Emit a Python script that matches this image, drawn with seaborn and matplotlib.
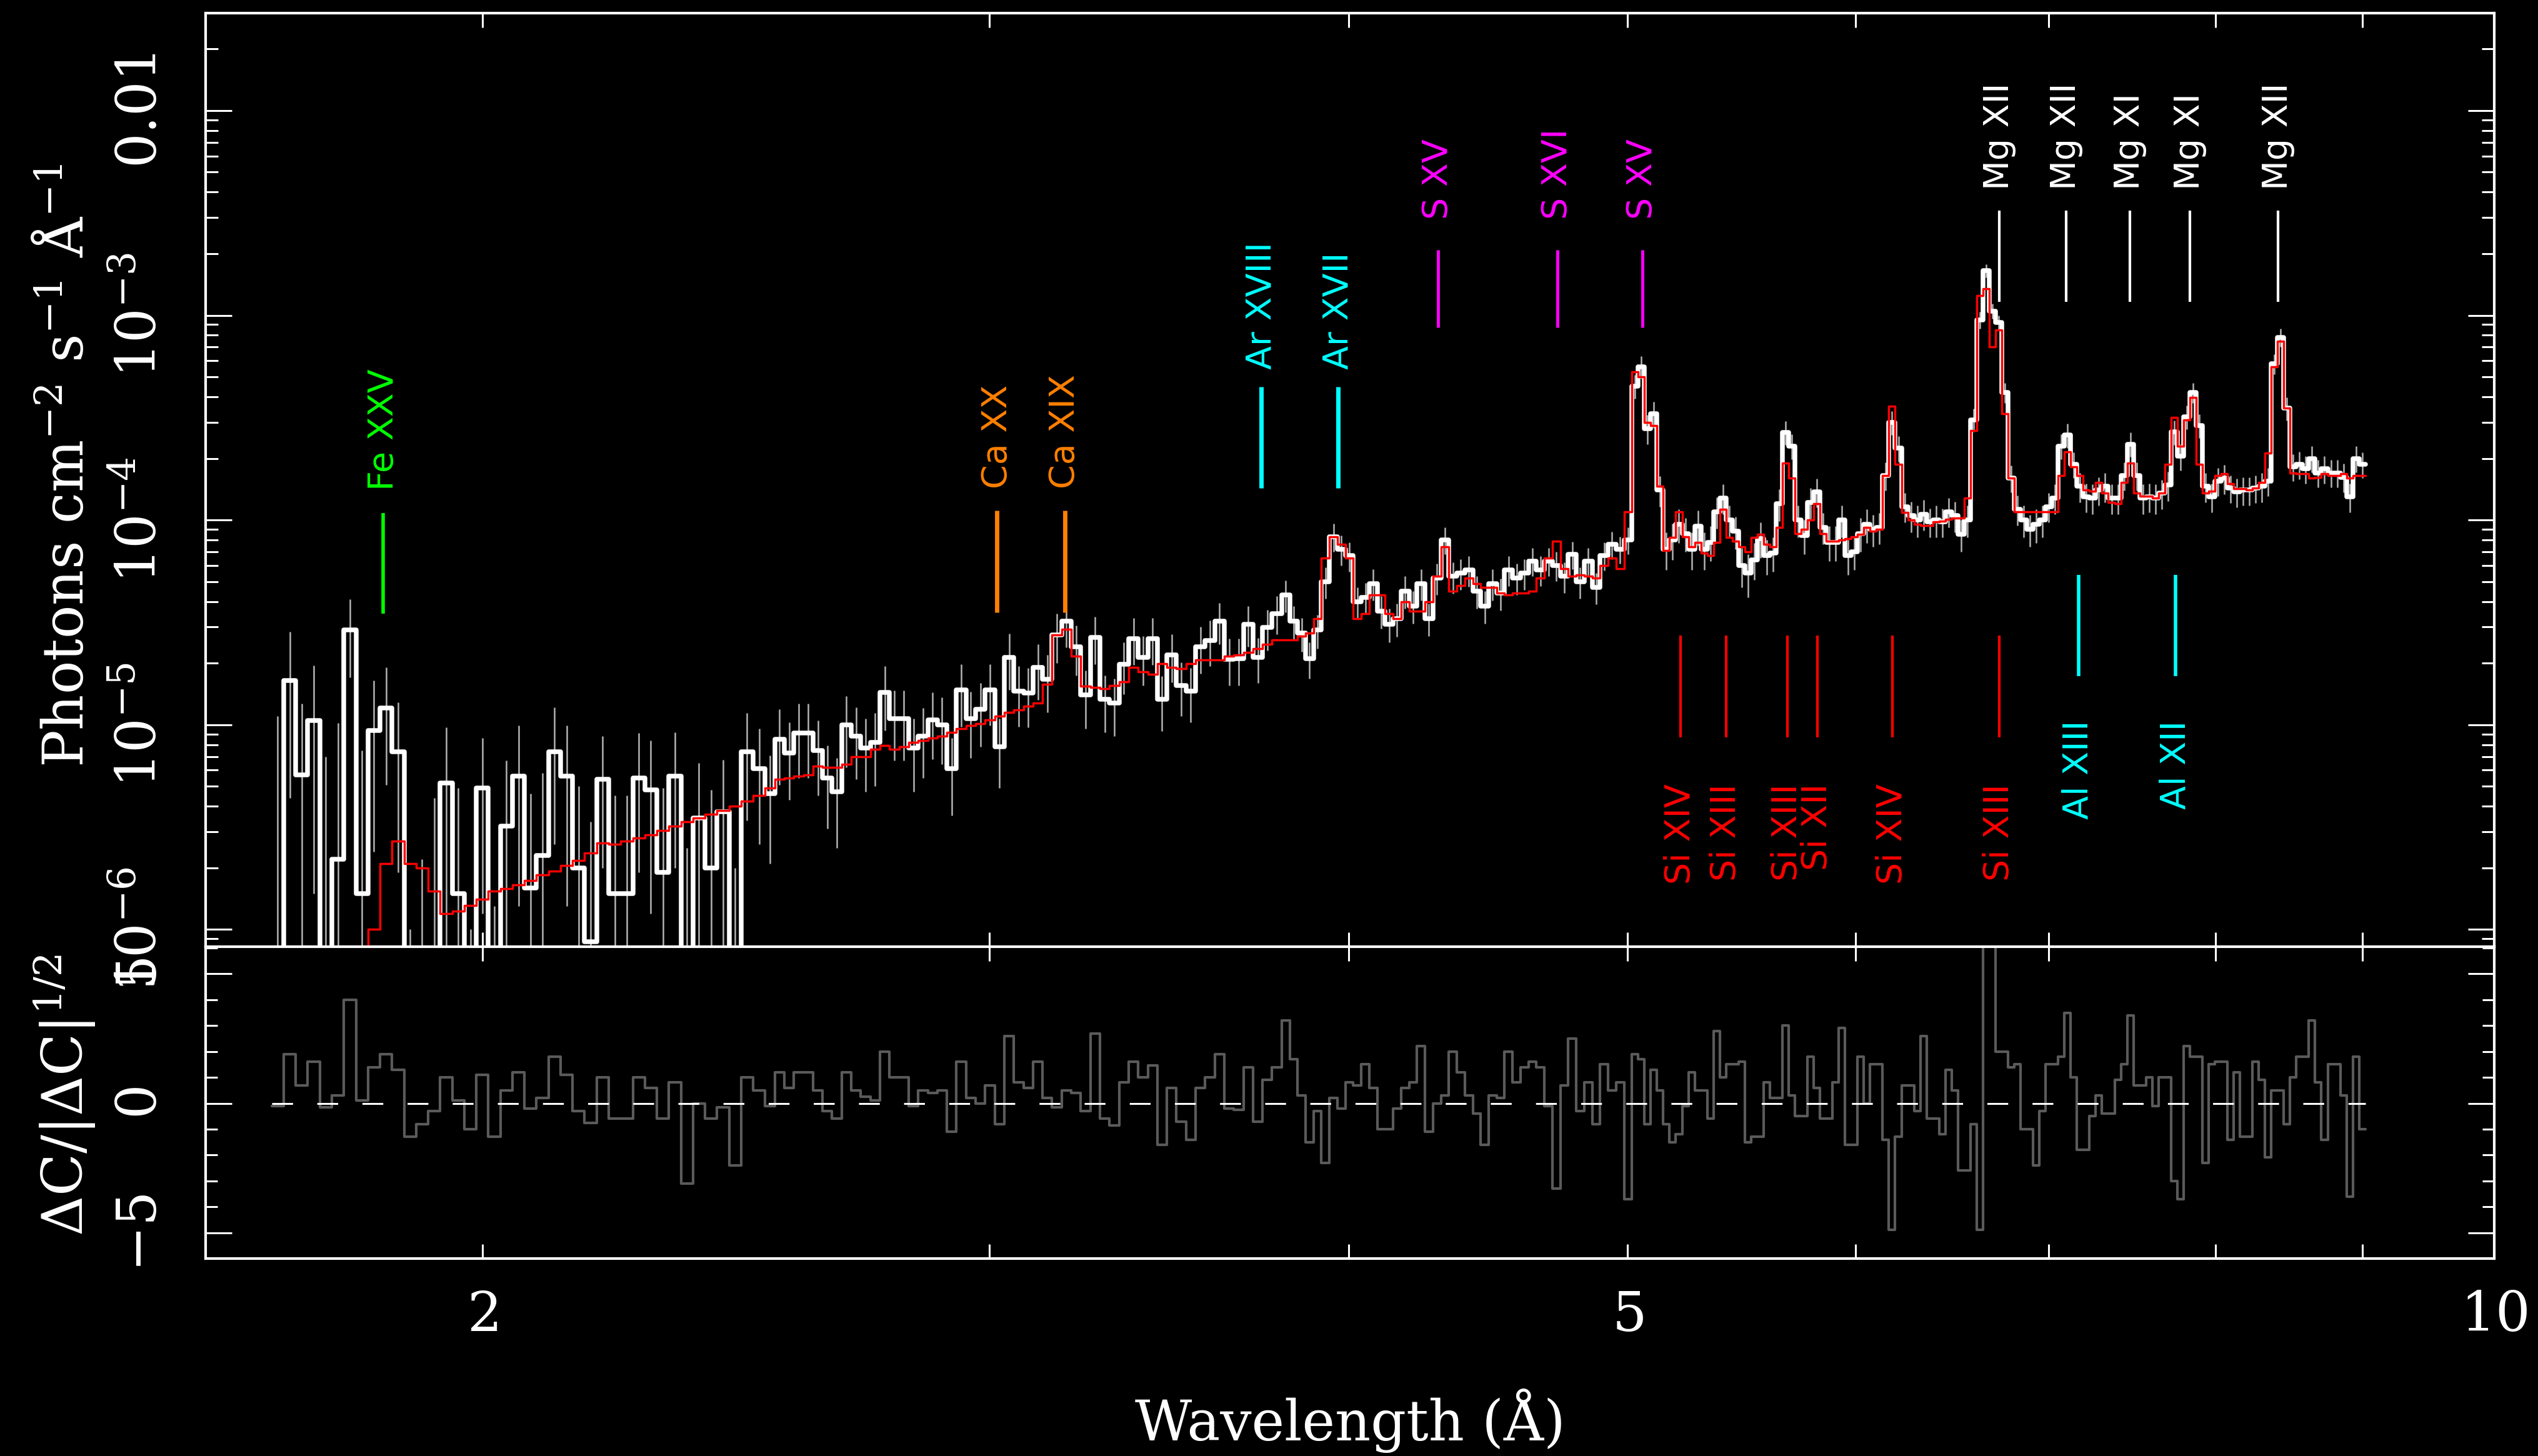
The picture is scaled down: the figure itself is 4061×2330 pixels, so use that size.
import numpy as np
import matplotlib
matplotlib.use("Agg")
import matplotlib.pyplot as plt
import seaborn as sns
from matplotlib.ticker import FixedLocator, FixedFormatter, NullFormatter

# ---------------------------------------------------------------------------
# Spectrum: four wavelength segments, each split into log-uniform bins
# ---------------------------------------------------------------------------
SEGMENT_LIMITS = [1.690, 2.508, 3.791, 5.017, 9.020]   # Angstrom
SEGMENT_BINS = [41, 54, 44, 117]

# observed flux per bin, units of 1e-6 photons cm^-2 s^-1 A^-1 (0 = empty bin)
FLUX = [
    # 1.69 - 2.51 A
    0, 16.4, 5.7, 10.5, 0, 2.2, 29, 1.5, 9.4, 12.1,
    7.4, 0, 0, 0, 5.2, 1.5, 0, 4.9, 0, 3.2,
    5.6, 1.6, 2.3, 7.4, 5.6, 2.0, 0.87, 5.4, 1.5, 1.5,
    5.5, 4.8, 1.9, 5.6, 0, 3.5, 2.0, 3.75, 0, 7.4,
    6.1,
    # 2.51 - 3.79 A
    4.6, 8.5, 7.3, 9.1, 9.1, 7.5, 5.5, 4.7, 10.0, 8.8,
    7.7, 8.2, 14.4, 10.7, 10.7, 7.7, 8.8, 10.6, 10.0, 6.1,
    14.8, 10.7, 11.9, 14.8, 7.8, 21.3, 14.6, 14.3, 19.0, 16.7,
    27.5, 32, 24, 14, 26.8, 13.3, 12.8, 19.7, 26.4, 21.3,
    26.4, 13.3, 21.9, 15.6, 14.6, 24, 25.8, 32, 20.9, 21,
    31, 21.3, 29.8, 35,
    # 3.79 - 5.02 A
    43, 32, 28, 21, 29, 50, 83, 72, 67, 40,
    42, 49, 36, 31, 33, 45, 38, 49, 33, 52,
    80, 53, 55, 57, 45, 38, 49, 44, 57, 52,
    55, 63, 57, 63, 60, 53, 68, 50, 63, 47,
    67, 76, 72, 80,
    # 5.02 - 9.02 A
    450, 560, 280, 330, 140, 72, 80, 95, 86, 72,
    93, 72, 78, 110, 128, 100, 88, 60, 55, 64,
    81, 67, 69, 120, 268, 230, 100, 84, 122, 137,
    92, 78, 78, 100, 67, 70, 86, 95, 90, 92,
    165, 300, 224, 116, 105, 100, 107, 98, 100, 98,
    110, 105, 85, 100, 309, 950, 1650, 1050, 920, 420,
    160, 113, 100, 90, 95, 100, 116, 128, 230, 260,
    187, 146, 130, 128, 140, 146, 128, 128, 165, 235,
    165, 128, 130, 128, 135, 148, 270, 205, 320, 420,
    290, 146, 130, 155, 160, 143, 137, 140, 140, 143,
    146, 155, 580, 780, 351, 182, 187, 178, 200, 170,
    178, 170, 170, 162, 130, 200, 187,
]

# 1-sigma uncertainty of the flux, same units
FLUX_ERR = [
    11, 12, 7, 9, 7, 8, 12, 6, 7, 7,
    5.5, 1.0, 2.2, 4.4, 4.5, 3.4, 1.0, 3.7, 1.3, 3.5,
    4.3, 3, 3.5, 4.8, 4.3, 3, 2.5, 3.4, 3, 3,
    3.6, 3.6, 3, 3.6, 2.5, 3, 2.8, 3, 2, 4,
    3.5,
    2.5, 3.4, 3.0, 3.6, 3.6, 3.0, 2.4, 2.2, 3.8, 3.4,
    3.0, 3.2, 5.0, 4.0, 4.0, 3.0, 3.3, 3.8, 3.6, 2.5,
    5.0, 3.8, 4.1, 4.9, 2.9, 6.5, 4.8, 4.6, 5.8, 5.2,
    7.5, 8.2, 6.6, 4.4, 7.0, 4.1, 4.0, 5.6, 6.8, 5.8,
    6.8, 4.0, 5.8, 4.6, 4.3, 6.2, 6.4, 7.2, 5.4, 5.4,
    7.0, 5.3, 6.7, 7.4,
    7.5, 6.0, 5.2, 4.2, 5.4, 8.6, 13, 12, 11, 7.0,
    7.4, 8.5, 6.6, 5.8, 6.1, 8.0, 6.9, 8.6, 6.0, 9.0,
    12, 9.2, 9.5, 9.8, 8.0, 6.9, 8.5, 7.8, 9.6, 9.0,
    9.4, 10, 9.6, 10, 9.8, 9.0, 10.5, 8.6, 10, 8.2,
    10.5, 11.5, 11, 12,
    60, 70, 45, 48, 24, 15, 16, 18, 16, 15,
    18, 15, 15, 19, 21, 18, 16, 13, 13, 13,
    16, 13, 13, 21, 35, 32, 18, 16, 21, 22,
    16, 15, 15, 18, 13, 13, 16, 18, 16, 16,
    26, 40, 32, 19, 18, 18, 18, 16, 18, 16,
    18, 18, 15, 18, 40, 90, 120, 85, 80, 48,
    24, 19, 18, 16, 18, 18, 19, 21, 32, 35,
    27, 24, 21, 21, 22, 24, 21, 21, 26, 32,
    26, 21, 21, 21, 22, 24, 37, 30, 42, 48,
    38, 24, 21, 24, 26, 22, 22, 22, 22, 22,
    24, 24, 64, 80, 45, 27, 29, 27, 29, 26,
    27, 26, 26, 26, 21, 29, 27,
]

# best-fit model folded through the response, same units
MODEL = [
    0.3, 0.3, 0.3, 0.3, 0.35, 0.4, 0.5, 0.6, 1.0, 2.1,
    2.7, 2.1, 2.0, 1.54, 1.2, 1.23, 1.31, 1.41, 1.54, 1.58,
    1.65, 1.73, 1.85, 1.93, 2.06, 2.18, 2.37, 2.65, 2.6, 2.7,
    2.8, 2.9, 3.05, 3.2, 3.35, 3.5, 3.65, 3.8, 4.0, 4.25,
    4.5,
    4.9, 5.4, 5.5, 5.6, 5.7, 6.3, 6.2, 6.2, 6.4, 7.0,
    7.0, 7.6, 7.9, 7.6, 7.8, 8.2, 8.4, 8.6, 8.8, 9.2,
    9.6, 9.9, 10.1, 10.6, 11.0, 11.5, 11.8, 12.3, 12.8, 15.8,
    27.5, 29.3, 21.6, 15.4, 15.2, 15.0, 15.6, 16.2, 19.0, 18.2,
    17.6, 19.9, 19.0, 18.8, 19.9, 20.7, 20.7, 20.7, 21.6, 22.0,
    22.6, 23.5, 24.7, 26.0,
    26, 26, 27, 28, 33, 65, 83, 76, 65, 33,
    35, 43, 43, 35, 33, 40, 36, 36, 40, 53,
    74, 45, 48, 52, 49, 47, 47, 44, 43, 44,
    44, 45, 52, 65, 79, 58, 53, 54, 53, 52,
    60, 65, 58, 110,
    530, 500, 300, 290, 146, 71, 82, 110, 83, 74,
    78, 69, 67, 78, 113, 82, 79, 74, 70, 82,
    85, 76, 74, 92, 190, 160, 86, 90, 100, 120,
    86, 79, 79, 80, 81, 83, 85, 92, 88, 90,
    165, 360, 187, 109, 100, 95, 94, 94, 98, 99,
    101, 102, 102, 128, 273, 1250, 1350, 700, 850, 330,
    160, 110, 110, 110, 110, 110, 110, 110, 165, 215,
    182, 165, 140, 138, 153, 135, 122, 120, 153, 190,
    135, 131, 131, 128, 135, 187, 318, 230, 309, 398,
    187, 135, 138, 165, 168, 150, 142, 142, 140, 143,
    153, 212, 560, 745, 351, 170, 168, 168, 160, 162,
    168, 165, 165, 168, 160, 165, 165,
]

# signed square-root of the C-statistic contribution per bin
RESIDUAL = [
    -0.1, 1.9, 0.7, 1.6, -0.15, 0.3, 4.0, 0.1, 1.4, 1.9,
    1.3, -1.3, -0.8, -0.3, 1.0, 0.1, -1.0, 1.1, -1.3, 0.5,
    1.2, -0.2, 0.2, 1.8, 1.1, -0.3, -0.75, 1.0, -0.6, -0.6,
    1.0, 0.6, -0.6, 0.8, -3.1, 0.0, -0.6, -0.15, -2.4, 1.0,
    0.5,
    -0.1, 1.2, 0.6, 1.2, 1.2, 0.5, -0.3, -0.6, 1.2, 0.5,
    0.25, 0.1, 2.0, 1.0, 1.0, -0.1, 0.5, 0.4, 0.5, -1.1,
    1.6, 0.2, 0.0, 0.7, -0.8, 2.6, 0.8, 0.6, 1.6, 0.2,
    -0.15, 0.5, 0.4, -0.3, 2.7, -0.6, -0.85, 0.8, 1.6, 1.0,
    1.45, -1.6, 0.6, -0.7, -1.4, 0.6, 1.0, 1.9, -0.2, -0.25,
    1.4, -0.7, 0.9, 1.4,
    3.2, 1.7, 0.3, -1.5, -0.3, -2.3, 0.2, -0.2, 0.8, 0.7,
    1.5, 0.6, -1.0, -1.0, -0.2, 0.6, 0.8, 2.2, -1.1, 0.0,
    0.3, 2.0, 1.2, 0.3, -0.4, -1.6, 0.3, 0.2, 2.0, 0.8,
    1.4, 1.6, 1.4, -0.1, -3.3, 0.7, 2.5, -0.3, 0.8, -0.8,
    1.5, 0.5, 0.8, -3.7,
    1.9, 1.7, -0.8, 1.3, 0.5, -0.8, -1.5, -1.2, -0.1, 1.2,
    0.5, 0.5, -0.6, 2.8, 1.0, 1.5, 1.5, 1.6, -1.5, -1.3,
    -1.3, 0.8, 0.2, 0.2, 3.0, 0.3, -0.5, -0.5, 1.8, 0.6,
    -0.6, -0.6, 0.8, 2.9, -1.6, -1.6, 1.8, 0.0, 1.5, 1.5,
    -1.4, -4.9, -1.3, 0.7, 0.7, -0.3, 2.6, -0.6, -0.6, -1.2,
    1.3, 0.5, -2.6, -2.6, -0.8, -4.9, 6.2, 6.2, 2.0, 2.0,
    1.4, 1.5, -1.0, -1.0, -2.4, -0.3, 1.5, 1.5, 1.8, 3.5,
    1.0, -1.8, -1.8, -0.5, 0.3, -0.4, -0.4, 0.9, 1.5, 3.4,
    0.7, 0.7, 1.0, -0.1, 1.0, 1.0, -3.0, -3.7, 2.2, 1.8,
    1.8, -2.3, 1.5, 1.6, 1.6, -1.4, 1.2, -1.3, -1.3, 1.6,
    0.9, -2.1, 0.5, 0.5, -0.8, 1.0, 1.8, 1.8, 3.2, 0.8,
    -1.4, 1.5, 1.5, 0.3, -3.6, 1.8, -1.0,
]

# identified emission lines (rest wavelengths, Angstrom)
LINE_IONS = ["Fe XXV", "Ca XX", "Ca XIX", "Ar XVIII", "Ar XVII",
             "S XV", "S XVI", "S XV",
             "Mg XII", "Mg XII", "Mg XI", "Mg XI", "Mg XII",
             "Si XIV", "Si XIII", "Si XIII", "Si XII", "Si XIV", "Si XIII",
             "Al XIII", "Al XII"]
LINE_WAVES = [1.848, 3.019, 3.188, 3.730, 3.966,
              4.296, 4.727, 5.060,
              6.73, 7.10, 7.47, 7.84, 8.41,
              5.215, 5.41, 5.68, 5.82, 6.18, 6.73,
              7.17, 7.75]

FLUX_UNIT = 1e-6

# ---------------------------------------------------------------------------
# Styling
# ---------------------------------------------------------------------------
sns.set_theme(style="ticks", rc={
    "figure.facecolor": "black",
    "axes.facecolor": "black",
    "axes.edgecolor": "white",
    "axes.labelcolor": "white",
    "text.color": "white",
    "xtick.color": "white",
    "ytick.color": "white",
    "lines.scale_dashes": False,
})
plt.rcParams["font.family"] = ["DejaVu Serif"]
plt.rcParams["mathtext.fontset"] = "dejavuserif"

TICK_FS = 63
LABEL_FS = 64
ION_FS = 40

# marker styling per element: colour, vertical extent, label anchor, side
ELEMENT_STYLE = {
    "Fe": dict(color="#00ff00", span=(3.5e-5, 1.08e-4), text=1.39e-4, above=True, lw=4.0),
    "Ca": dict(color="#ff8000", span=(3.54e-5, 1.11e-4), text=1.42e-4, above=True, lw=5.0),
    "Ar": dict(color="#00ffff", span=(1.43e-4, 4.46e-4), text=5.45e-4, above=True, lw=5.0),
    "S":  dict(color="#ff00ff", span=(8.75e-4, 2.08e-3), text=2.94e-3, above=True, lw=3.5),
    "Mg": dict(color="#ffffff", span=(1.16e-3, 3.25e-3), text=4.1e-3, above=True, lw=3.0),
    "Si": dict(color="#ff0000", span=(8.69e-6, 2.72e-5), text=5.16e-6, above=False, lw=3.0),
    "Al": dict(color="#00ffff", span=(1.73e-5, 5.41e-5), text=1.05e-5, above=False, lw=4.0),
}

# ---------------------------------------------------------------------------
# Derived arrays
# ---------------------------------------------------------------------------
edges = np.concatenate(
    [np.geomspace(lo, hi, n + 1)[:-1]
     for lo, hi, n in zip(SEGMENT_LIMITS[:-1], SEGMENT_LIMITS[1:], SEGMENT_BINS)]
    + [[SEGMENT_LIMITS[-1]]]
)
centers = np.sqrt(edges[:-1] * edges[1:])
flux = np.asarray(FLUX, float) * FLUX_UNIT
flux_err = np.asarray(FLUX_ERR, float) * FLUX_UNIT
model = np.asarray(MODEL, float) * FLUX_UNIT
resid = np.asarray(RESIDUAL, float)
assert len(flux) == len(flux_err) == len(model) == len(resid) == len(centers)

FLOOR = 1e-9   # empty bins drop below the plotted range


def step_values(v):
    return np.append(v, v[-1])


# ---------------------------------------------------------------------------
# Figure
# ---------------------------------------------------------------------------
W, H = 4061, 2330
fig = plt.figure(figsize=(W / 100, H / 100), dpi=100)
x0, x1 = 329 / W, 3991 / W
ax = fig.add_axes([x0, 1 - 1515 / H, x1 - x0, (1515 - 21) / H])
axr = fig.add_axes([x0, 1 - 2014 / H, x1 - x0, (2014 - 1515) / H])

for a in (ax, axr):
    a.set_xscale("log")
    a.set_xlim(1.603, 10.0)
ax.set_yscale("log")
ax.set_ylim(8.24e-7, 0.0299)
axr.set_ylim(-6.0, 6.05)

# error bars
lo = np.clip(flux - flux_err, FLOOR, None)
hi = flux + flux_err
ax.vlines(centers, lo, hi, colors="#b4b4b4", linewidth=1.8, zorder=2)

# data histogram
sns.lineplot(x=edges, y=np.clip(step_values(flux), FLOOR, None), ax=ax,
             drawstyle="steps-post", color="white", linewidth=5.4,
             estimator=None, sort=False, zorder=3)
# model
sns.lineplot(x=edges, y=np.clip(step_values(model), FLOOR, None), ax=ax,
             drawstyle="steps-post", color="#ff0000", linewidth=2.5,
             estimator=None, sort=False, zorder=4)

# line identifications
for ion, wave in zip(LINE_IONS, LINE_WAVES):
    st = ELEMENT_STYLE[ion.split()[0]]
    ax.plot([wave, wave], st["span"], color=st["color"], linewidth=st["lw"],
            solid_capstyle="butt", zorder=5)
    ax.text(wave, st["text"], ion, rotation=90, color=st["color"],
            fontsize=ION_FS, family="DejaVu Sans", ha="center",
            va="bottom" if st["above"] else "top", zorder=6)

# residuals
sns.lineplot(x=edges, y=step_values(resid), ax=axr, drawstyle="steps-post",
             color="#5a5a5a", linewidth=3.0, estimator=None, sort=False, zorder=2)
axr.plot([edges[0], edges[-1]], [0, 0], color="white", linewidth=2.2,
         dashes=(24, 28), zorder=3)

# ---------------------------------------------------------------------------
# Axes decoration
# ---------------------------------------------------------------------------
x_major = [2, 5, 10]
x_minor = [3, 4, 6, 7, 8, 9]
for a in (ax, axr):
    a.set_xlabel("")
    a.set_ylabel("")
    for s in a.spines.values():
        s.set_color("white")
        s.set_linewidth(3)
    a.xaxis.set_major_locator(FixedLocator(x_major))
    a.xaxis.set_minor_locator(FixedLocator(x_minor))
    a.xaxis.set_minor_formatter(NullFormatter())
    a.tick_params(which="both", direction="in", top=True, right=True,
                  bottom=True, left=True, colors="white", width=2.2)
    a.tick_params(axis="x", which="both", length=16.5)

ax.tick_params(axis="x", labelbottom=False)
axr.xaxis.set_major_formatter(FixedFormatter([r"$2$", r"$5$", r"$10$"]))
axr.tick_params(axis="x", labelsize=TICK_FS, pad=35)

y_major = [1e-6, 1e-5, 1e-4, 1e-3, 1e-2]
y_minor = [m * 10.0 ** e for e in range(-7, -1) for m in range(2, 10)]
ax.yaxis.set_major_locator(FixedLocator(y_major))
ax.yaxis.set_major_formatter(FixedFormatter(
    [r"$10^{-6}$", r"$10^{-5}$", r"$10^{-4}$", r"$10^{-3}$", r"$0.01$"]))
ax.yaxis.set_minor_locator(FixedLocator(y_minor))
ax.yaxis.set_minor_formatter(NullFormatter())
ax.tick_params(axis="y", which="major", length=30, labelsize=TICK_FS,
               labelrotation=90, pad=44)
ax.tick_params(axis="y", which="minor", length=14.5)

axr.yaxis.set_major_locator(FixedLocator([-5, 0, 5]))
axr.yaxis.set_major_formatter(FixedFormatter([r"$-5$", r"$0$", r"$5$"]))
axr.yaxis.set_minor_locator(FixedLocator([-4, -3, -2, -1, 1, 2, 3, 4, 6]))
axr.yaxis.set_minor_formatter(NullFormatter())
axr.tick_params(axis="y", which="major", length=30, labelsize=TICK_FS,
                labelrotation=90, pad=44)
axr.tick_params(axis="y", which="minor", length=14)

for a in (ax, axr):
    plt.setp(a.get_yticklabels(), va="center")

# axis titles
fig.text((329 + 3991) / 2 / W, 1 - 2305 / H, "Wavelength (Å)",
         ha="center", va="baseline", fontsize=LABEL_FS, color="white")
fig.text(133 / W, 1 - 745 / H, r"Photons cm$^{-2}$ s$^{-1}$ Å$^{-1}$",
         rotation=90, rotation_mode="anchor", ha="center", va="baseline",
         fontsize=LABEL_FS, color="white")
fig.text(133 / W, 1 - 1753 / H, r"$\Delta$C/|$\Delta$C|$^{1/2}$",
         rotation=90, rotation_mode="anchor", ha="center", va="baseline",
         fontsize=LABEL_FS, color="white")

fig.savefig("out.png", dpi=100, facecolor="black")
